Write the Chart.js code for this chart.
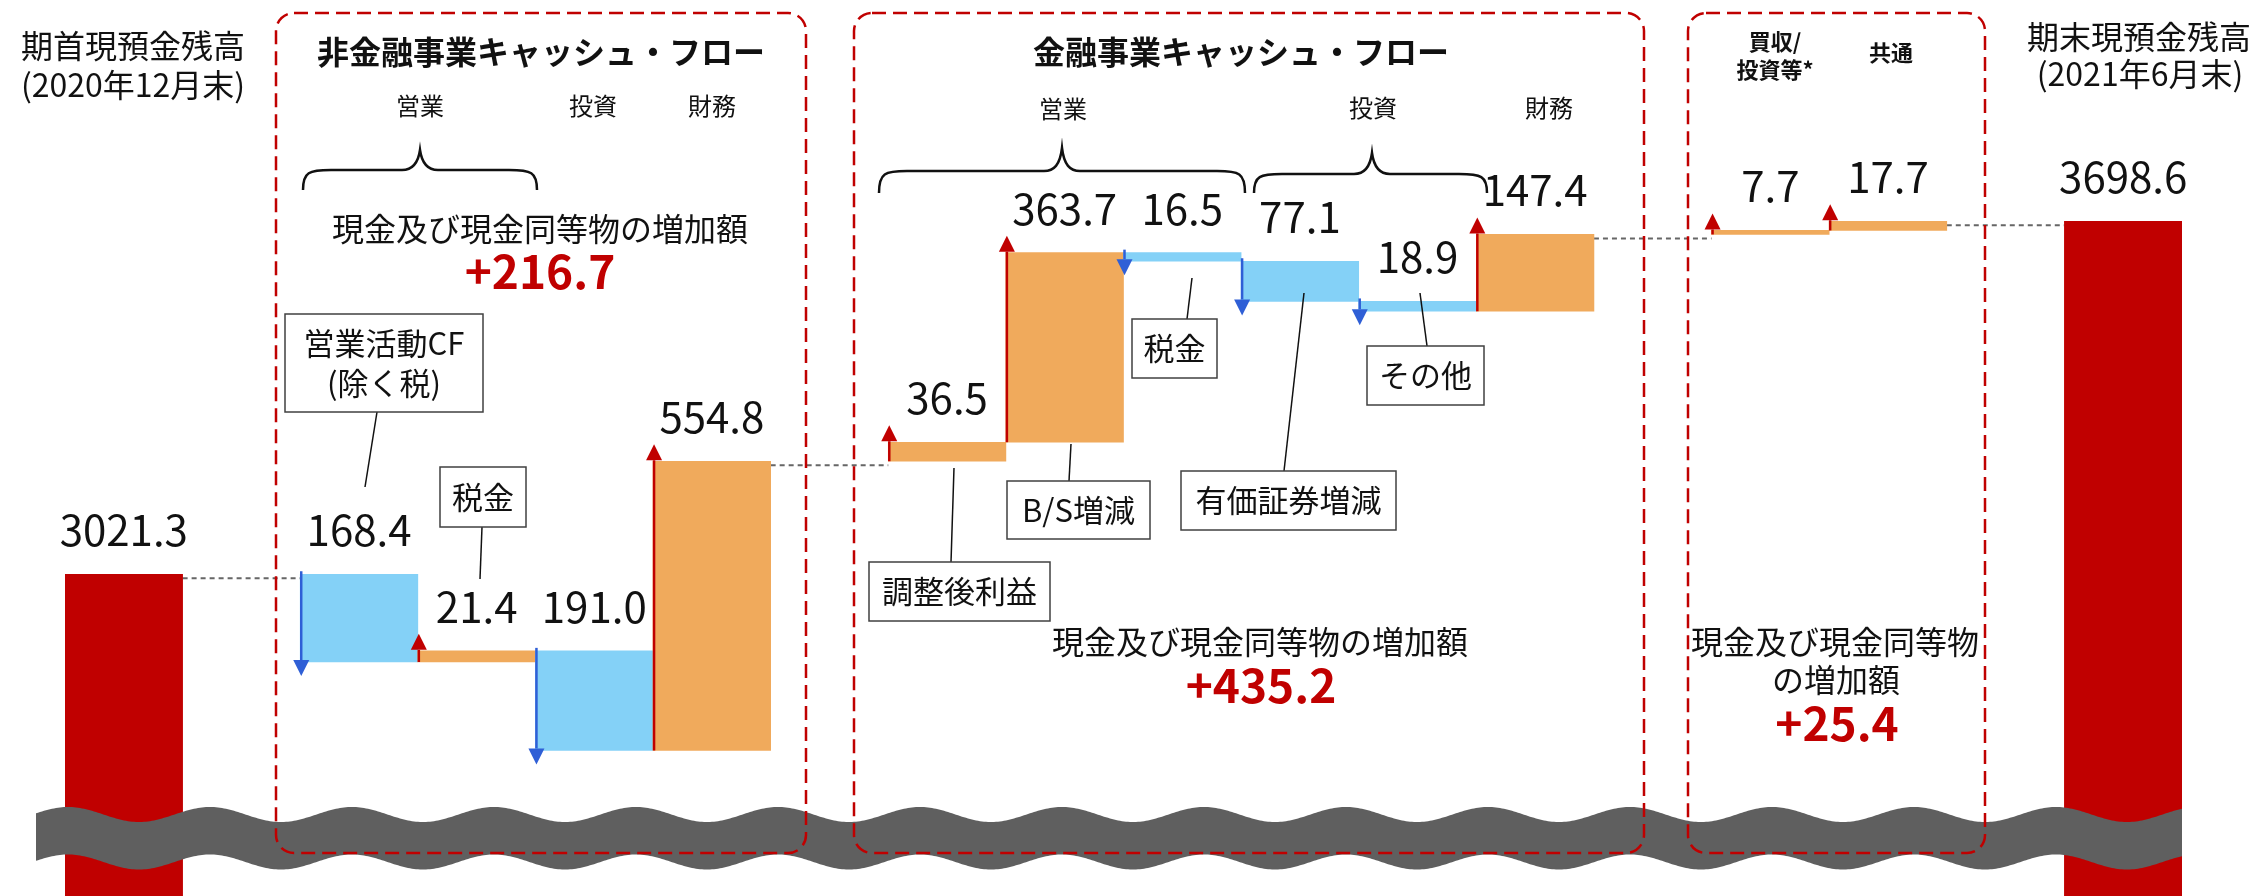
<!DOCTYPE html>
<html lang="ja">
<head>
<meta charset="utf-8">
<title>キャッシュ・フロー</title>
<script src="https://cdn.jsdelivr.net/npm/chart.js@4.4.1/dist/chart.umd.min.js"></script>
<style>
  html, body { margin: 0; padding: 0; background: #fff; }
  #wrap { width: 2254px; height: 896px; }
</style>
</head>
<body>
<div id="wrap"><canvas id="chart" width="2254" height="896"></canvas></div>
<script>
/* ===== 現預金残高 ウォーターフォール ===== */

// one slot per category, '' = empty spacer slot
const CATEGORIES = [
  '期首現預金残高', '',
  '営業活動CF(除く税)', '税金', '投資', '財務', '',
  '調整後利益', 'B/S増減', '税金', '有価証券増減', 'その他', '財務', '',
  '買収/投資等', '共通', '',
  '期末現預金残高',
];
const START_BALANCE = 3021.3;
const END_BALANCE = 3698.6;
const DELTAS = [
  null, null,
  -168.4, 21.4, -191.0, 554.8, null,
  36.5, 363.7, -16.5, -77.1, -18.9, 147.4, null,
  7.7, 17.7, null,
  null,
];
const SECTION_TOTALS = ['+216.7', '+435.2', '+25.4'];

// visible value window (the bottom is cut by the wave symbol)
const Y_MIN = 2404;
const Y_MAX = 4123;

const COLORS = {
  balance: '#c00000',
  up: '#f0aa5c',
  down: '#84d1f7',
  upArrow: '#c00000',
  downArrow: '#2f5fd6',
  box: '#c00000',
  wave: '#5f5f5f',
  text: '#111111',
};
const JP = '"Noto Sans CJK JP", "Noto Sans", sans-serif';

/* ---------- Waterfall data ---------- */

let running = START_BALANCE;
const ranges = CATEGORIES.map((c, i) => {
  if (i === 0) return [Y_MIN, START_BALANCE];
  if (i === CATEGORIES.length - 1) return [Y_MIN, END_BALANCE];
  const d = DELTAS[i];
  if (d === null) return null;
  const from = running;
  running = Math.round((running + d) * 10) / 10;
  return [from, running];
});

const barColors = CATEGORIES.map((c, i) => {
  if (i === 0 || i === CATEGORIES.length - 1) return COLORS.balance;
  const d = DELTAS[i];
  if (d === null) return 'rgba(0,0,0,0)';
  return d > 0 ? COLORS.up : COLORS.down;
});

/* ---------- Drawing helpers ---------- */

function text(ctx, str, x, y, size, opts = {}) {
  ctx.save();
  ctx.font = `${opts.bold ? '700 ' : ''}${size}px ${JP}`;
  ctx.fillStyle = opts.color || COLORS.text;
  ctx.textAlign = 'center';
  ctx.textBaseline = 'middle';
  ctx.fillText(str, x, y);
  ctx.restore();
}

function arrow(ctx, x, y0, tip, color) {
  const dir = tip < y0 ? -1 : 1;
  const head = 16;
  ctx.save();
  ctx.strokeStyle = color;
  ctx.fillStyle = color;
  ctx.lineWidth = 2.5;
  ctx.beginPath();
  ctx.moveTo(x, y0);
  ctx.lineTo(x, tip - dir * head);
  ctx.stroke();
  ctx.beginPath();
  ctx.moveTo(x, tip);
  ctx.lineTo(x - 8, tip - dir * head);
  ctx.lineTo(x + 8, tip - dir * head);
  ctx.closePath();
  ctx.fill();
  ctx.restore();
}

function brace(ctx, x0, x1, xc, yTip, yBar, yEnd) {
  ctx.save();
  ctx.strokeStyle = '#111';
  ctx.lineWidth = 2.5;
  ctx.beginPath();
  ctx.moveTo(x0, yEnd);
  ctx.bezierCurveTo(x0, yBar + 2, x0 + 6, yBar, x0 + 28, yBar);
  ctx.lineTo(xc - 18, yBar);
  ctx.bezierCurveTo(xc - 8, yBar, xc - 2, yBar - 6, xc, yTip);
  ctx.bezierCurveTo(xc + 2, yBar - 6, xc + 8, yBar, xc + 18, yBar);
  ctx.lineTo(x1 - 28, yBar);
  ctx.bezierCurveTo(x1 - 6, yBar, x1, yBar + 2, x1, yEnd);
  ctx.stroke();
  ctx.restore();
}

function callout(ctx, lines, x, y, w, h, lead) {
  ctx.save();
  ctx.strokeStyle = '#111';
  ctx.lineWidth = 1.5;
  ctx.beginPath();
  ctx.moveTo(lead[0], lead[1]);
  ctx.lineTo(lead[2], lead[3]);
  ctx.stroke();
  ctx.fillStyle = '#fff';
  ctx.fillRect(x, y, w, h);
  ctx.strokeStyle = '#404040';
  ctx.strokeRect(x, y, w, h);
  ctx.restore();
  const step = 40;
  const top = y + h / 2 - (lines.length - 1) * step / 2;
  lines.forEach((l, i) => text(ctx, l, x + w / 2, top + i * step, 31));
}

function dashedBox(ctx, x, y, w, h) {
  ctx.save();
  ctx.strokeStyle = COLORS.box;
  ctx.lineWidth = 2.5;
  ctx.setLineDash([14, 7]);
  ctx.beginPath();
  ctx.roundRect(x, y, w, h, 18);
  ctx.stroke();
  ctx.restore();
}

function wave(ctx, x0, x1) {
  const period = 142, phase = 68, amp = 7.5, mid = 814.5, thick = 47.5;
  const top = x => mid - amp * Math.cos(2 * Math.PI * (x - phase) / period);
  ctx.save();
  ctx.fillStyle = COLORS.wave;
  ctx.beginPath();
  ctx.moveTo(x0, top(x0));
  for (let x = x0; x <= x1; x += 2) ctx.lineTo(x, top(x));
  for (let x = x1; x >= x0; x -= 2) ctx.lineTo(x, top(x) + thick);
  ctx.closePath();
  ctx.fill();
  ctx.restore();
}

/* ---------- Overlay plugin ---------- */

const overlay = {
  id: 'overlay',
  beforeDatasetsDraw(chart) {
    const { ctx } = chart;
    const ys = chart.scales.y;
    const bars = chart.getDatasetMeta(0).data;
    // dotted connectors across the spacer slots
    ctx.save();
    ctx.strokeStyle = '#666';
    ctx.lineWidth = 2;
    ctx.setLineDash([5, 4]);
    [[0, 2], [5, 7], [12, 14], [15, 17]].forEach(([a, b]) => {
      const y = ys.getPixelForValue(ranges[a][1]) + 4;
      ctx.beginPath();
      ctx.moveTo(bars[a].x + bars[a].width / 2, y);
      ctx.lineTo(bars[b].x - bars[b].width / 2, y);
      ctx.stroke();
    });
    ctx.restore();
  },
  afterDatasetsDraw(chart) {
    const { ctx } = chart;
    const ys = chart.scales.y;
    const bars = chart.getDatasetMeta(0).data;

    // arrows + value labels
    ranges.forEach((r, i) => {
      if (!r) return;
      const bar = bars[i];
      const d = DELTAS[i];
      if (d !== null) {
        const x = bar.x - bar.width / 2 + 1;
        const y0 = ys.getPixelForValue(r[0]);
        const y1 = ys.getPixelForValue(r[1]);
        if (d > 0) arrow(ctx, x, y0, y1 - 17, COLORS.upArrow);
        else arrow(ctx, x, y0 - 3, y1 + 14, COLORS.downArrow);
      }
      const topPx = Math.min(ys.getPixelForValue(r[0]), ys.getPixelForValue(r[1]));
      const value = d !== null ? Math.abs(d) : r[1];
      text(ctx, value.toFixed(1), bar.x, topPx - 44, 42);
    });

    // axis break
    wave(ctx, 36, 2182);

    // section frames
    dashedBox(ctx, 276, 13, 530, 840);
    dashedBox(ctx, 854, 13, 790, 840);
    dashedBox(ctx, 1688, 13, 297, 840);

    // balance headings
    text(ctx, '期首現預金残高', 133, 46, 32);
    text(ctx, '(2020年12月末)', 133, 85, 32);
    text(ctx, '期末現預金残高', 2139, 37, 32);
    text(ctx, '(2021年6月末)', 2140, 74, 32);

    // 非金融事業
    text(ctx, '非金融事業キャッシュ・フロー', 541, 52, 32, { bold: true });
    text(ctx, '営業', 420, 106, 24);
    text(ctx, '投資', 593, 106, 24);
    text(ctx, '財務', 712, 106, 24);
    brace(ctx, 303, 537, 420, 150, 170, 190);
    text(ctx, '現金及び現金同等物の増加額', 540, 229, 32);
    text(ctx, SECTION_TOTALS[0], 540, 272, 46, { bold: true, color: COLORS.box });
    callout(ctx, ['営業活動CF', '(除く税)'], 285, 314, 198, 98, [377, 412, 365, 487]);
    callout(ctx, ['税金'], 440, 467, 86, 60, [482, 527, 480, 579]);

    // 金融事業
    text(ctx, '金融事業キャッシュ・フロー', 1241, 52, 32, { bold: true });
    text(ctx, '営業', 1063, 109, 24);
    text(ctx, '投資', 1373, 108, 24);
    text(ctx, '財務', 1549, 108, 24);
    brace(ctx, 879, 1245, 1062, 148, 171, 193);
    brace(ctx, 1254, 1487, 1372, 153, 174, 193);
    callout(ctx, ['税金'], 1132, 319, 85, 59, [1187, 319, 1192, 278]);
    callout(ctx, ['その他'], 1367, 346, 117, 59, [1427, 346, 1420, 293]);
    callout(ctx, ['有価証券増減'], 1181, 471, 215, 59, [1284, 471, 1304, 293]);
    callout(ctx, ['B/S増減'], 1007, 481, 143, 58, [1069, 481, 1071, 444]);
    callout(ctx, ['調整後利益'], 869, 562, 181, 59, [951, 562, 954, 468]);
    text(ctx, '現金及び現金同等物の増加額', 1260, 642, 32);
    text(ctx, SECTION_TOTALS[1], 1261, 686, 46, { bold: true, color: COLORS.box });

    // 買収/投資等・共通
    text(ctx, '買収/', 1775, 42, 22, { bold: true });
    text(ctx, '投資等*', 1775, 70, 22, { bold: true });
    text(ctx, '共通', 1891, 53, 22, { bold: true });
    text(ctx, '現金及び現金同等物', 1835, 642, 32);
    text(ctx, 'の増加額', 1836, 680, 32);
    text(ctx, SECTION_TOTALS[2], 1837, 724, 46, { bold: true, color: COLORS.box });
  },
};

/* ---------- Chart ---------- */

new Chart(document.getElementById('chart'), {
  type: 'bar',
  data: {
    labels: CATEGORIES,
    datasets: [{
      data: ranges,
      backgroundColor: barColors,
      borderWidth: 0,
      barPercentage: 1,
      categoryPercentage: 1,
    }],
  },
  options: {
    responsive: false,
    animation: false,
    events: [],
    layout: { padding: { left: 65, right: 72, top: 0, bottom: 0 } },
    plugins: {
      legend: { display: false },
      tooltip: { enabled: false },
    },
    scales: {
      x: { display: false },
      y: { display: false, min: Y_MIN, max: Y_MAX },
    },
  },
  plugins: [overlay],
});
</script>
</body>
</html>
